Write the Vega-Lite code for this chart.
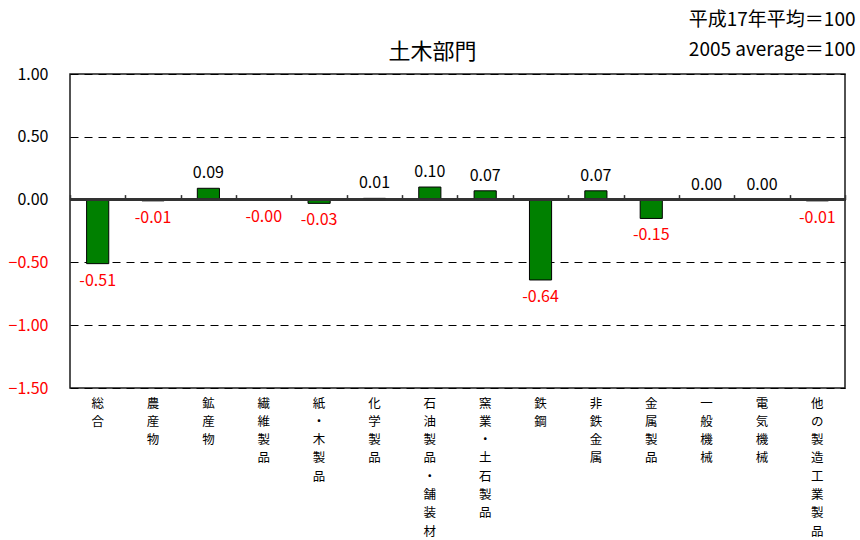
{
  "$schema": "https://vega.github.io/schema/vega-lite/v6.json",
  "width": 775,
  "height": 314,
  "autosize": {"type": "none"},
  "padding": {"left": 70, "top": 74, "right": 15, "bottom": 152},
  "background": "white",
  "config": {
    "font": "Noto Sans CJK JP",
    "view": {"stroke": "#1a1a1a", "strokeWidth": 1.5}
  },
  "data": {
    "values": [
      {"cat": "総合", "value": -0.51, "label": "-0.51"},
      {"cat": "農産物", "value": -0.01, "label": "-0.01"},
      {"cat": "鉱産物", "value": 0.09, "label": "0.09"},
      {"cat": "繊維製品", "value": -0.002, "label": "-0.00"},
      {"cat": "紙・木製品", "value": -0.03, "label": "-0.03"},
      {"cat": "化学製品", "value": 0.01, "label": "0.01"},
      {"cat": "石油製品・舗装材", "value": 0.10, "label": "0.10"},
      {"cat": "窯業・土石製品", "value": 0.07, "label": "0.07"},
      {"cat": "鉄鋼", "value": -0.64, "label": "-0.64"},
      {"cat": "非鉄金属", "value": 0.07, "label": "0.07"},
      {"cat": "金属製品", "value": -0.15, "label": "-0.15"},
      {"cat": "一般機械", "value": 0.0, "label": "0.00"},
      {"cat": "電気機械", "value": 0.0, "label": "0.00"},
      {"cat": "他の製造工業製品", "value": -0.01, "label": "-0.01"}
    ]
  },
  "resolve": {"axis": {"x": "independent"}},
  "layer": [
    {
      "mark": {"type": "bar", "color": "#008000", "stroke": "#000000", "strokeWidth": 1, "width": {"band": 0.4}},
      "encoding": {
        "x": {
          "field": "cat", "type": "nominal", "sort": null,
          "scale": {"paddingInner": 0, "paddingOuter": 0},
          "axis": {
            "orient": "bottom", "title": null, "domain": false, "ticks": false, "grid": false,
            "labelAngle": 0, "labelAlign": "center", "labelBaseline": "top",
            "labelExpr": "split(datum.label, '')",
            "labelLineHeight": 18.3, "labelFontSize": 12.5, "labelPadding": 9,
            "labelColor": "#000000", "labelOverlap": false, "labelLimit": 0
          }
        },
        "y": {
          "field": "value", "type": "quantitative",
          "scale": {"domain": [-1.5, 1], "nice": false, "zero": false},
          "axis": {
            "values": [-1.5, -1, -0.5, 0, 0.5, 1],
            "format": ".2f",
            "domain": false, "ticks": false,
            "grid": true, "gridColor": "#000000", "gridDash": [8, 6], "gridWidth": 1,
            "labelFontSize": 16, "labelPadding": 22,
            "labelColor": {"expr": "datum.value < 0 ? '#ff0000' : '#000000'"},
            "title": ["平成17年平均＝100", "2005 average＝100"],
            "titleAngle": 0, "titleAlign": "right", "titleBaseline": "top",
            "titleX": 785, "titleY": -64, "titleLineHeight": 30,
            "titleFontSize": 19, "titleFontWeight": "normal", "titleColor": "#000000"
          }
        }
      }
    },
    {
      "mark": {"type": "rule", "color": "#333333", "strokeWidth": 1.5},
      "encoding": {"y": {"datum": 0}}
    },
    {
      "transform": [{"filter": "datum.value >= 0"}],
      "mark": {"type": "text", "baseline": "middle", "align": "center", "dy": -15, "fontSize": 16, "color": "#000000"},
      "encoding": {
        "x": {
          "field": "cat", "type": "nominal", "sort": null,
          "axis": {
            "orient": "top", "labels": false, "grid": false,
            "offset": -125.6,
            "domain": true, "domainColor": "#333333", "domainWidth": 1.5,
            "ticks": true, "tickBand": "extent", "tickSize": 5, "tickColor": "#333333", "tickWidth": 1.5,
            "title": "土木部門",
            "titleFontSize": 22, "titleFontWeight": "normal", "titleColor": "#000000",
            "titleAlign": "center", "titleBaseline": "middle", "titleAngle": 0,
            "titleX": 362, "titleY": -148.6,
            "zindex": 1
          }
        },
        "y": {"field": "value", "type": "quantitative"},
        "text": {"field": "label"}
      }
    },
    {
      "transform": [{"filter": "datum.value < 0"}],
      "mark": {"type": "text", "baseline": "middle", "align": "center", "dy": 17, "fontSize": 16, "color": "#ff0000"},
      "encoding": {
        "x": {"field": "cat", "type": "nominal", "sort": null, "axis": null},
        "y": {"field": "value", "type": "quantitative"},
        "text": {"field": "label"}
      }
    }
  ]
}
